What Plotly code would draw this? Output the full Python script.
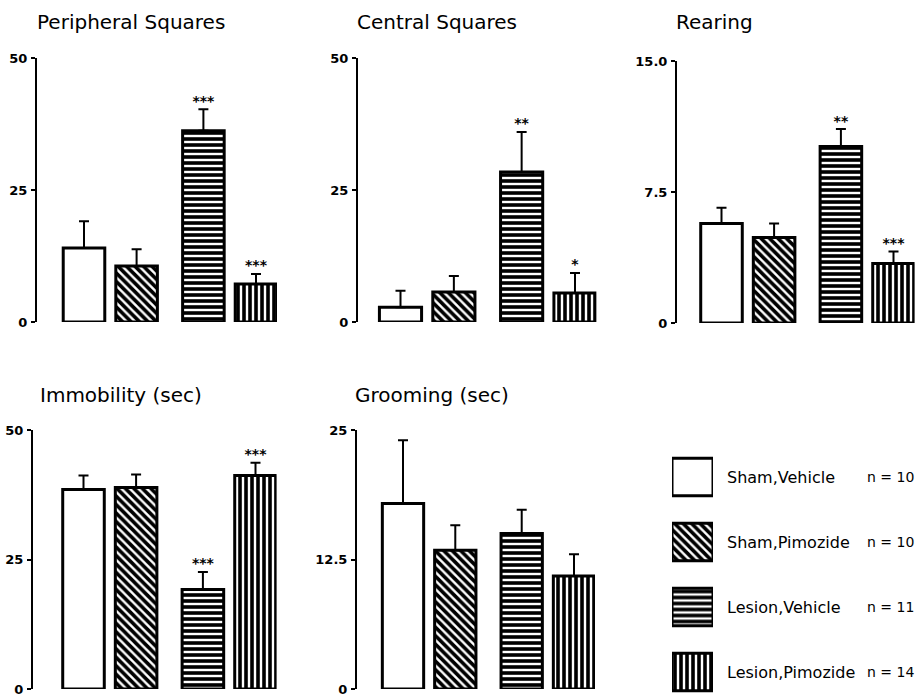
import plotly.graph_objects as go

# ---------------- data ----------------
groups = ["Sham,Vehicle", "Sham,Pimozide", "Lesion,Vehicle", "Lesion,Pimozide"]
n_values = [10, 10, 11, 14]

panel_titles = ["Peripheral Squares", "Central Squares", "Rearing",
                "Immobility (sec)", "Grooming (sec)"]

peripheral_mean = [14.0, 10.6, 36.2, 7.2]
peripheral_sem = [5.1, 3.2, 4.1, 1.9]
peripheral_sig = ["", "", "***", "***"]

central_mean = [2.8, 5.7, 28.4, 5.5]
central_sem = [3.1, 3.0, 7.6, 3.8]
central_sig = ["", "", "**", "*"]

rearing_mean = [5.7, 4.9, 10.1, 3.4]
rearing_sem = [0.9, 0.8, 1.0, 0.7]
rearing_sig = ["", "", "**", "***"]

immobility_mean = [38.5, 38.9, 19.2, 41.2]
immobility_sem = [2.7, 2.5, 3.4, 2.5]
immobility_sig = ["", "", "***", "***"]

grooming_mean = [17.9, 13.4, 15.0, 10.9]
grooming_sem = [6.1, 2.4, 2.3, 2.1]
grooming_sig = ["", "", "", ""]

y_max = [50, 50, 15, 50, 25]
y_tickvals = [[0, 25, 50], [0, 25, 50], [0, 7.5, 15], [0, 25, 50], [0, 12.5, 25]]
y_ticktext = [["0", "25", "50"], ["0", "25", "50"], ["0", "7.5", "15.0"],
              ["0", "25", "50"], ["0", "12.5", "25"]]

means = [peripheral_mean, central_mean, rearing_mean, immobility_mean, grooming_mean]
sems = [peripheral_sem, central_sem, rearing_sem, immobility_sem, grooming_sem]
sigs = [peripheral_sig, central_sig, rearing_sig, immobility_sig, grooming_sig]

# ---------------- layout geometry ----------------
W, H = 915, 698
FONT = "DejaVu Sans"
group_gap = 0.27
xs = [i + (group_gap if i >= 2 else 0) for i in range(len(groups))]
patterns = ["", "\\", "-", "|"]
pattern_style = dict(shape=patterns, fgcolor="black", bgcolor="white",
                     fgopacity=1, size=6, solidity=0.6)

# per panel: axis line px, first bar centre px, last bar centre px, zero px, top px, title x, title y
geom = [
    (37, 84, 256, 322, 58, 35, 22.5),
    (358, 400.5, 575, 322, 58, 355, 22.5),
    (677, 721.5, 893.5, 323, 61, 674, 22.5),
    (33, 83.5, 255.5, 689, 430, 38, 394.5),
    (357, 403, 574, 689, 430, 353, 394.5),
]

fig = go.Figure()
annotations = []

for i in range(5):
    ax_px, c1, c4, y0, yt, tx, ty = geom[i]
    scale = (c4 - c1) / xs[-1]
    lo = (ax_px - c1) / scale
    hi = xs[-1] + 0.4
    right_px = min(c1 + hi * scale, W)
    hi = (right_px - c1) / scale
    k = "" if i == 0 else str(i + 1)
    xa, ya = "x" + k, "y" + k

    fig.add_trace(go.Bar(
        x=xs, y=means[i], width=0.79,
        xaxis=xa, yaxis=ya,
        marker=dict(color="white", line=dict(color="black", width=3),
                    pattern=pattern_style),
        error_y=dict(type="data", symmetric=False, array=sems[i],
                     arrayminus=[0] * len(groups), color="black",
                     thickness=2, width=5),
        cliponaxis=False, showlegend=False, hoverinfo="skip",
    ))
    fig.add_trace(go.Scatter(
        x=xs, y=[m + s for m, s in zip(means[i], sems[i])],
        text=sigs[i], mode="text", textposition="top center",
        textfont=dict(family=FONT, size=14, color="black", weight="bold"),
        xaxis=xa, yaxis=ya, cliponaxis=False, showlegend=False, hoverinfo="skip",
    ))

    fig.layout["xaxis" + k] = dict(
        domain=[ax_px / W, right_px / W], range=[lo, hi],
        visible=False, anchor=ya, fixedrange=True,
    )
    fig.layout["yaxis" + k] = dict(
        domain=[(H - y0) / H, (H - yt) / H], range=[0, y_max[i]],
        anchor=xa, showline=True, linewidth=2, linecolor="black",
        ticks="outside", ticklen=4, tickwidth=2, tickcolor="black",
        tickvals=y_tickvals[i], ticktext=y_ticktext[i],
        tickfont=dict(family=FONT, size=13, color="black", weight="bold"),
        ticklabelstandoff=1, ticklabeloverflow="allow",
        showgrid=False, zeroline=False, automargin=False, fixedrange=True,
    )
    annotations.append(dict(
        text=panel_titles[i], x=tx / W, y=(H - ty) / H, xref="paper", yref="paper",
        xanchor="left", yanchor="middle", showarrow=False,
        font=dict(family=FONT, size=20, color="black"),
    ))

# ---------------- legend (as a small bar subplot) ----------------
rows = list(range(len(groups)))
fig.add_trace(go.Bar(
    y=rows, x=[1] * len(groups), orientation="h", width=0.58,
    xaxis="x6", yaxis="y6",
    marker=dict(color="white", line=dict(color="black", width=3),
                pattern=pattern_style),
    cliponaxis=False, showlegend=False, hoverinfo="skip",
))
fig.layout["xaxis6"] = dict(domain=[672 / W, 713 / W], range=[0, 1], visible=False,
                            anchor="y6", fixedrange=True)
fig.layout["yaxis6"] = dict(domain=[0, (H - 444.5) / H], range=[3.4, -0.5], visible=False,
                            anchor="x6", fixedrange=True)
for r, (g, n) in enumerate(zip(groups, n_values)):
    annotations.append(dict(text=g, x=725 / W, y=r, xref="paper", yref="y6",
                            xanchor="left", yanchor="middle", showarrow=False,
                            font=dict(family=FONT, size=16, color="black")))
    annotations.append(dict(text=f"n = {n}", x=865 / W, y=r, xref="paper", yref="y6",
                            xanchor="left", yanchor="middle", showarrow=False,
                            font=dict(family=FONT, size=14, color="black")))

fig.update_layout(
    width=W, height=H, margin=dict(l=0, r=0, t=0, b=0),
    paper_bgcolor="white", plot_bgcolor="white",
    annotations=annotations, showlegend=False,
)

fig.write_html("out.html",
               config={"displayModeBar": False},
               post_script="document.body.style.margin='0px';"
                           "document.body.style.overflow='hidden';")
